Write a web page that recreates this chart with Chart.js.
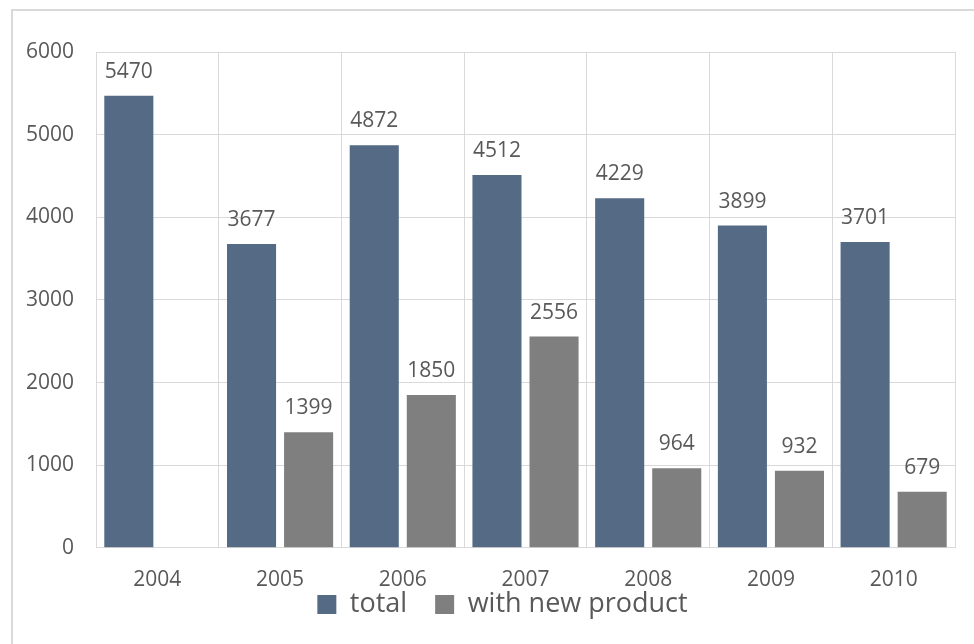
<!DOCTYPE html>
<html>
<head>
<meta charset="utf-8">
<script src="https://cdn.jsdelivr.net/npm/chart.js@4.4.1/dist/chart.umd.min.js"></script>
<style>
  html, body { margin: 0; padding: 0; background: #fff; overflow: hidden; }
  #frame {
    position: absolute; left: 11px; top: 9px; width: 1000px; height: 700px;
    border-top: 2px solid #d9d9d9; border-left: 2px solid #d9d9d9;
  }
  #wrap { position: absolute; left: 0; top: 0; width: 974px; height: 644px; }
</style>
</head>
<body>
<div id="frame"></div>
<div id="wrap"><canvas id="myChart" width="974" height="644"></canvas></div>
<script>
let years = ["2004", "2005", "2006", "2007", "2008", "2009", "2010"];
let totalValues = [5470, 3677, 4872, 4512, 4229, 3899, 3701];
let newProductValues = [null, 1399, 1850, 2556, 964, 932, 679];
let seriesNames = ["total", "with new product"];
let yTicks = [0, 1000, 2000, 3000, 4000, 5000, 6000];

const textColor = "#595959";
const gridColor = "#d9d9d9";
const fontFamily = "'Open Sans', sans-serif";

// value labels above each bar
const barLabels = {
  id: "barLabels",
  afterDatasetsDraw(chart) {
    const ctx = chart.ctx;
    ctx.save();
    ctx.fillStyle = textColor;
    ctx.font = "21px " + fontFamily;
    ctx.textAlign = "center";
    ctx.textBaseline = "alphabetic";
    chart.data.datasets.forEach((ds, i) => {
      chart.getDatasetMeta(i).data.forEach((bar, j) => {
        if (ds.data[j] == null) return;
        ctx.fillText(ds.data[j], bar.x, bar.y - 18);
      });
    });
    ctx.restore();
  }
};

// nudge the legend: a bit right, and up closer to the year labels
const legendNudge = {
  id: "legendNudge",
  afterLayout(chart) {
    const lg = chart.legend;
    lg.left += 15;
    lg.right += 15;
    lg.top -= 50;
    lg.bottom -= 50;
  }
};

const ctx = document.getElementById("myChart").getContext("2d");

let myChart = new Chart(ctx, {
  type: "bar",
  data: {
    labels: years,
    datasets: [
      {
        label: seriesNames[0],
        data: totalValues,
        backgroundColor: "#546a85",
        categoryPercentage: 0.93,
        barPercentage: 0.86
      },
      {
        label: seriesNames[1],
        data: newProductValues,
        backgroundColor: "#7f7f7f",
        categoryPercentage: 0.93,
        barPercentage: 0.86
      }
    ]
  },
  options: {
    responsive: false,
    animation: false,
    layout: { padding: { left: 20, right: 19, top: 52, bottom: -34 } },
    scales: {
      x: {
        grid: { color: gridColor, drawTicks: false, offset: true },
        border: { color: gridColor },
        ticks: { color: textColor, font: { family: fontFamily, size: 21 }, padding: 20 }
      },
      y: {
        min: 0,
        max: 6000,
        afterBuildTicks(scale) { scale.ticks = yTicks.map(v => ({ value: v })); },
        grid: { color: gridColor, drawTicks: false },
        border: { color: gridColor },
        ticks: {
          color: textColor,
          font: { family: fontFamily, size: 21 },
          padding: 22,
          callback: v => String(v)
        },
        afterFit(scale) { scale.width = 76; }
      }
    },
    plugins: {
      legend: {
        position: "bottom",
        labels: {
          color: textColor,
          font: { family: fontFamily, size: 27 },
          boxWidth: 19,
          boxHeight: 19,
          padding: 28
        }
      },
      tooltip: { enabled: false }
    }
  },
  plugins: [barLabels, legendNudge]
});
</script>
</body>
</html>
